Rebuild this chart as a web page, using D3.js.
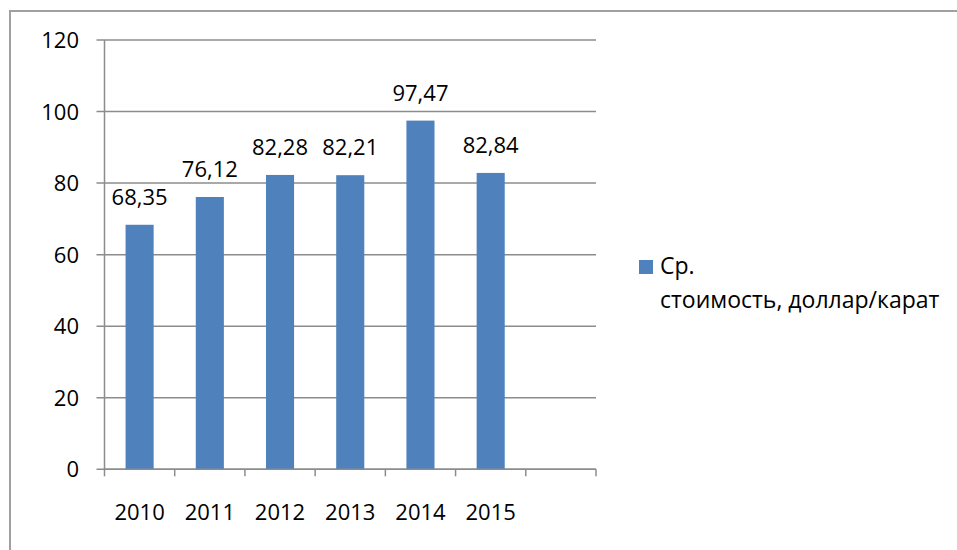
<!DOCTYPE html>
<html><head><meta charset="utf-8">
<script src="https://cdn.jsdelivr.net/npm/d3@7"></script>
<style>body{margin:0;background:#fff}svg{display:block}</style>
</head><body>
<script>
const categories = ["2010","2011","2012","2013","2014","2015",""];
const values = [68.35, 76.12, 82.28, 82.21, 97.47, 82.84];
const valueLabels = ["68,35","76,12","82,28","82,21","97,47","82,84"];
const yTicks = [0,20,40,60,80,100,120];
const seriesName = ["Ср.", "стоимость, доллар/карат"];

(function(){
const W = 957, H = 550;
const font = "'Open Sans', sans-serif";
const svg = d3.select("body").append("svg").attr("width", W).attr("height", H);

svg.append("rect").attr("x",10).attr("y",11).attr("width",960).attr("height",560)
  .attr("fill","none").attr("stroke","#a0a0a0").attr("stroke-width",2);

const pL = 104.5, pR = 596, pT = 40, pB = 469.3;
const x = d3.scaleBand().domain(categories.map((c,i)=>i)).range([pL,pR]).paddingInner(0).paddingOuter(0);
const y = d3.scaleLinear().domain([0,120]).range([pB, pT]);

svg.append("g").selectAll("line").data(yTicks).join("line")
  .attr("x1", pL-8).attr("x2", pR).attr("y1", d=>y(d)).attr("y2", d=>y(d))
  .attr("stroke","#8c8c8c").attr("stroke-width",1.5);

svg.append("g").selectAll("text").data(yTicks).join("text")
  .attr("x", 79).attr("y", d=>y(d)+8).attr("text-anchor","end")
  .attr("font-family",font).attr("font-size",22).attr("fill","#000").text(d=>d);

const bw = x.bandwidth()/2.5;
svg.append("g").selectAll("rect").data(values).join("rect")
  .attr("x",(d,i)=>x(i)+x.bandwidth()/2-bw/2).attr("width",bw)
  .attr("y",d=>y(d)).attr("height",d=>y(0)-y(d))
  .attr("fill","#4f81bd");

svg.append("line").attr("x1",pL).attr("x2",pL).attr("y1",pT).attr("y2",pB)
  .attr("stroke","#8c8c8c").attr("stroke-width",1.5);
svg.append("line").attr("x1",pL).attr("x2",pR).attr("y1",pB).attr("y2",pB)
  .attr("stroke","#8c8c8c").attr("stroke-width",1.5);
const bounds = categories.map((c,i)=>x(i)).concat([pR]);
svg.append("g").selectAll("line").data(bounds).join("line")
  .attr("x1",d=>d).attr("x2",d=>d).attr("y1",pB).attr("y2",pB+7)
  .attr("stroke","#8c8c8c").attr("stroke-width",1.5);

svg.append("g").selectAll("text").data(categories).join("text")
  .attr("x",(d,i)=>x(i)+x.bandwidth()/2).attr("y",520).attr("text-anchor","middle")
  .attr("font-family",font).attr("font-size",22).attr("fill","#000").text(d=>d);

svg.append("g").selectAll("text").data(values).join("text")
  .attr("x",(d,i)=>x(i)+x.bandwidth()/2).attr("y",d=>y(d)-20).attr("text-anchor","middle")
  .attr("font-family",font).attr("font-size",22).attr("fill","#000").text((d,i)=>valueLabels[i]);

svg.append("rect").attr("x",639).attr("y",260).attr("width",14).attr("height",14).attr("fill","#4f81bd");
svg.append("g").selectAll("text").data(seriesName).join("text")
  .attr("x",660).attr("y",(d,i)=>274+i*34)
  .attr("font-family",font).attr("font-size",23).attr("fill","#000").text(d=>d);
})();
</script>
</body></html>
